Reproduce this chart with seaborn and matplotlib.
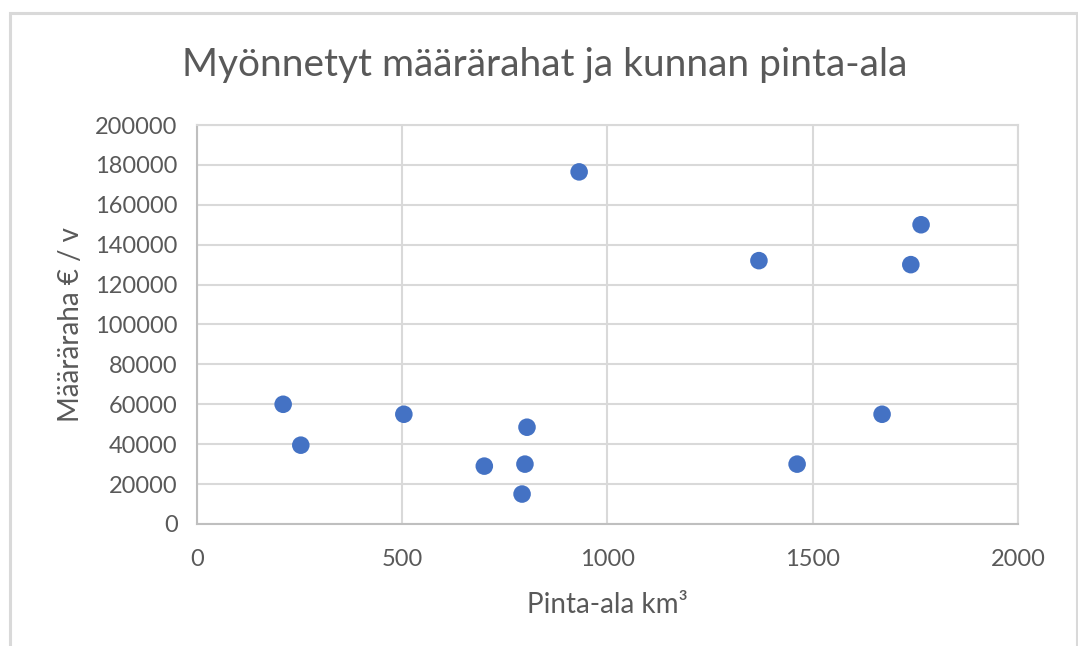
import matplotlib
matplotlib.use("Agg")
import matplotlib.pyplot as plt
import seaborn as sns
import pandas as pd
from matplotlib.patches import Rectangle

# pinta-ala (km²) ja määräraha (€ / v) per kunta
pinta_ala = [210, 253, 504, 700, 792, 799, 804, 931, 1369, 1462, 1669, 1739, 1764]
maararaha = [60000, 39500, 55000, 29000, 15000, 30000, 48500, 176500, 132000, 30000, 55000, 130000, 150000]

x_ticks = [0, 500, 1000, 1500, 2000]
y_ticks = list(range(0, 200001, 20000))

df = pd.DataFrame({"pinta_ala": pinta_ala, "maararaha": maararaha})

sns.set_theme(style="white")
plt.rcParams["font.family"] = ["Lato", "DejaVu Sans"]

fig = plt.figure(figsize=(10.78, 6.46), dpi=100)
ax = fig.add_axes([0.1827, 0.1889, 0.7616, 0.6176])

# chart frame like the spreadsheet export
fig.patches.append(Rectangle((0.0093, -0.1), 0.99, 1.08, transform=fig.transFigure,
                             fill=False, edgecolor="#D9D9D9", linewidth=2.2))

sns.scatterplot(data=df, x="pinta_ala", y="maararaha", color="#4472C4",
                s=160, edgecolor="none", ax=ax, zorder=3)

ax.set_xlim(0, 2000)
ax.set_ylim(0, 200000)
ax.set_xticks(x_ticks)
ax.set_yticks(y_ticks)
ax.set_xticklabels([str(t) for t in x_ticks])
ax.set_yticklabels([str(t) for t in y_ticks])

ax.grid(True, color="#D9D9D9", linewidth=1.5)
ax.set_axisbelow(True)
for side, sp in ax.spines.items():
    sp.set_color("#D9D9D9")
    sp.set_linewidth(1.5)
ax.spines["bottom"].set_color("#BFBFBF")
ax.spines["left"].set_color("#BFBFBF")

ax.tick_params(axis="both", length=0, labelsize=17, colors="#595959")
ax.tick_params(axis="x", pad=18)
ax.tick_params(axis="y", pad=14)

ax.set_xlabel("Pinta-ala km³", fontsize=20, color="#595959", labelpad=16)
ax.set_ylabel("Määräraha € / v", fontsize=20, color="#595959", labelpad=8)

fig.text(0.5056, 0.9, "Myönnetyt määrärahat ja kunnan pinta-ala",
         ha="center", va="center", fontsize=28, color="#595959")

plt.savefig("out.png", dpi=100)
